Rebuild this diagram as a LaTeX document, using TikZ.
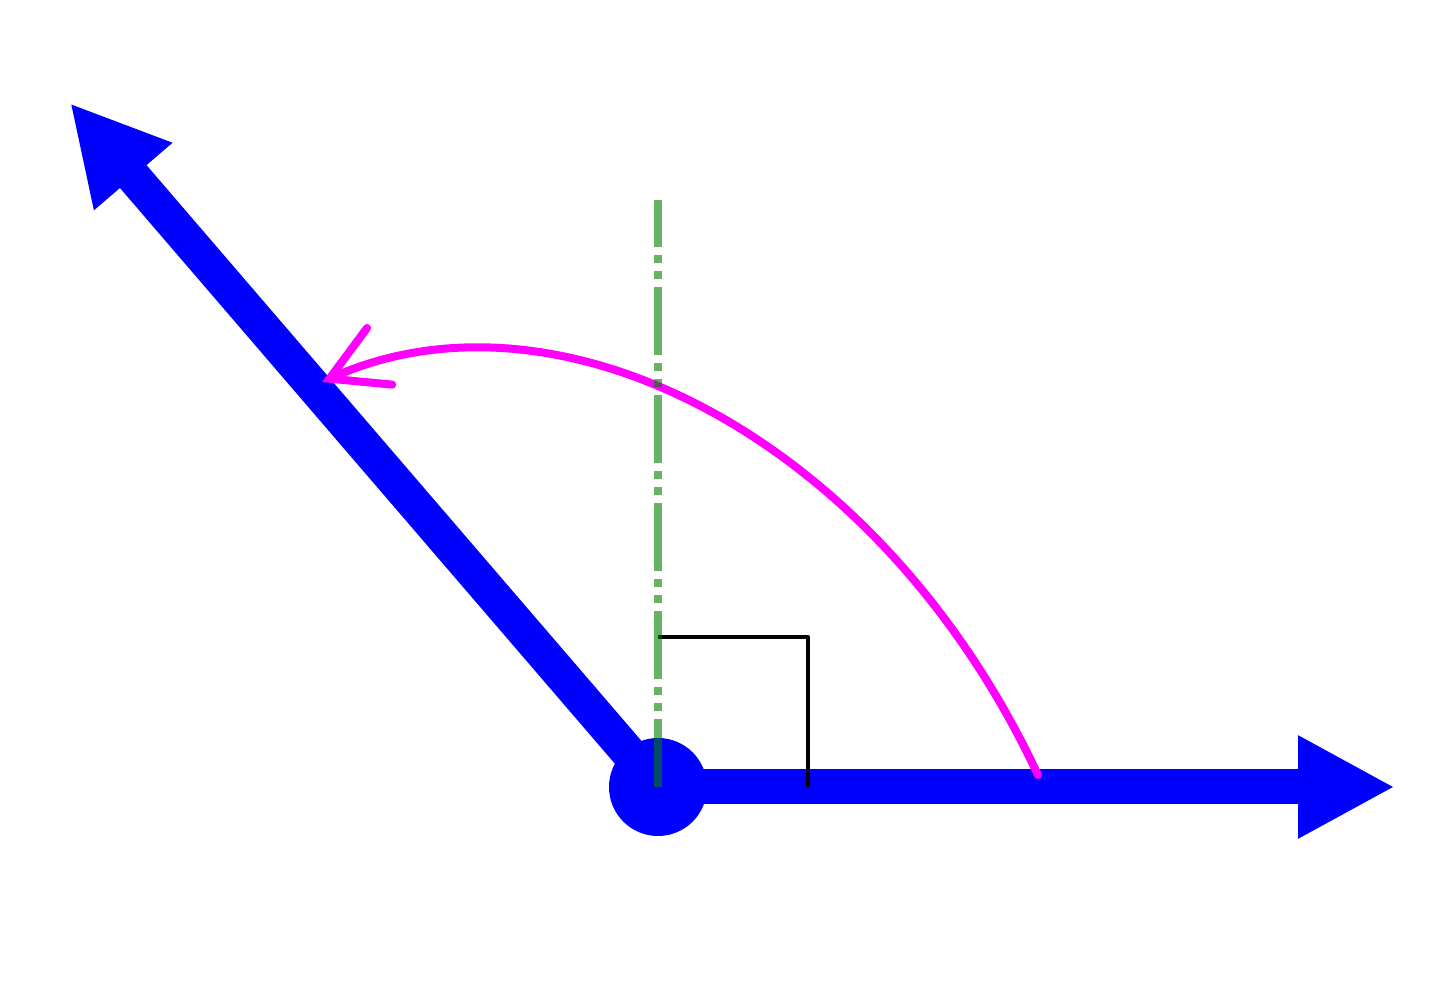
\documentclass[tikz,border=0pt]{standalone}
\usetikzlibrary{arrows.meta}
\definecolor{rayblue}{RGB}{0,0,255}
\definecolor{turnpink}{RGB}{255,0,255}
\definecolor{normgreen}{RGB}{0,128,0}
\begin{document}
\begin{tikzpicture}[line join=round,line cap=round,
	ray/.style={rayblue,line width=0.35cm,line cap=butt,-{Triangle[length=0.97cm,width=0.96cm]}},
	turn/.style={turnpink,line width=0.08cm,-{Straight Barb[length=0.55cm,width=0.62cm,line cap=round]}},
	perp/.style={normgreen,opacity=0.6,line width=0.08cm,line cap=butt,dash pattern=on 0.68cm off 0.08cm on 0.08cm off 0.08cm on 0.08cm off 0.08cm}]
	\useasboundingbox (0,0) rectangle (14.4,9.84);
	\coordinate (O) at (6.58,1.97);
	\coordinate (X) at (13.95,1.97);
	\coordinate (Y) at (0.70,8.81);
	\coordinate (N) at (6.58,7.84);
	\coordinate (S) at (10.38,2.09);
	\coordinate (E) at (3.22,6.02);
	\draw[ray] (O)--(X);
	\draw[ray] (O)--(Y);
	\fill[rayblue] (O) circle (0.49);
	\draw[turn] (S) .. controls (8.80,5.46) and (5.60,7.08) .. (E);
	\draw[line width=0.04cm,line cap=butt] (O)+(0,1.5)--+(1.5,1.5)--+(1.5,0);
	\draw[perp] (O)--(N);
\end{tikzpicture}
\end{document}
